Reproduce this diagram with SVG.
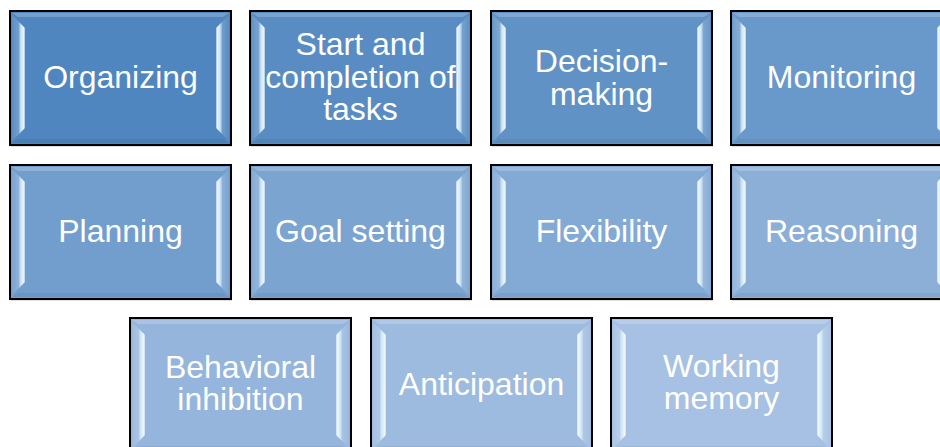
<svg xmlns="http://www.w3.org/2000/svg" xmlns:xlink="http://www.w3.org/1999/xlink" width="940" height="447" viewBox="0 0 940 447">
<style>
.box{stroke:#000;stroke-width:2}
.shadow{fill:#000;opacity:0.25}
.lbl{font-family:"Liberation Sans",Arial,sans-serif;font-size:32px;fill:#fff;text-anchor:middle}
</style>
<defs>
<linearGradient id="gl" x1="0" y1="0" x2="1" y2="0">
<stop offset="0" stop-color="#fff" stop-opacity="0.08"/>
<stop offset="0.5" stop-color="#fff" stop-opacity="0.2"/>
<stop offset="0.7" stop-color="#d6f2ff" stop-opacity="0.9"/>
<stop offset="0.92" stop-color="#fff" stop-opacity="0.9"/>
<stop offset="1" stop-color="#fff" stop-opacity="0.35"/>
</linearGradient>
<linearGradient id="gr" x1="1" y1="0" x2="0" y2="0">
<stop offset="0" stop-color="#fff" stop-opacity="0.05"/>
<stop offset="0.5" stop-color="#fff" stop-opacity="0.18"/>
<stop offset="0.7" stop-color="#d6f2ff" stop-opacity="0.9"/>
<stop offset="0.92" stop-color="#fff" stop-opacity="0.9"/>
<stop offset="1" stop-color="#fff" stop-opacity="0.35"/>
</linearGradient>
<g id="bevel">
<polygon points="2,2 219,2 213,6 8,6" fill="#fff" opacity="0.2"/>
<polygon points="2,132 219,132 213,128 8,128" fill="#000" opacity="0.05"/>
<polygon points="2,4 15,17 15,117 2,130" fill="url(#gl)"/>
<polygon points="219,4 206,17 206,117 219,130" fill="url(#gr)"/>
</g>
</defs>
<g id="connectors"></g>
<g id="organizing" transform="translate(10,11)">
<rect class="shadow" x="1" y="1.5" width="221" height="134"/>
<rect class="box" width="221" height="134" fill="#4F86BF"/>
<use xlink:href="#bevel"/>
<text class="lbl" x="110.5" y="77">Organizing</text>
</g>
<g id="start-completion" transform="translate(250,11)">
<rect class="shadow" x="1" y="1.5" width="221" height="134"/>
<rect class="box" width="221" height="134" fill="#588CC3"/>
<use xlink:href="#bevel"/>
<text class="lbl" x="110.5" y="44">Start and</text>
<text class="lbl" x="110.5" y="77">completion of</text>
<text class="lbl" x="110.5" y="109">tasks</text>
</g>
<g id="decision-making" transform="translate(491,11)">
<rect class="shadow" x="1" y="1.5" width="221" height="134"/>
<rect class="box" width="221" height="134" fill="#6092C6"/>
<use xlink:href="#bevel"/>
<text class="lbl" x="110.5" y="61">Decision-</text>
<text class="lbl" x="110.5" y="94">making</text>
</g>
<g id="monitoring" transform="translate(731,11)">
<rect class="shadow" x="1" y="1.5" width="221" height="134"/>
<rect class="box" width="221" height="134" fill="#6998CA"/>
<use xlink:href="#bevel"/>
<text class="lbl" x="110.5" y="77">Monitoring</text>
</g>
<g id="planning" transform="translate(10,165)">
<rect class="shadow" x="1" y="1.5" width="221" height="134"/>
<rect class="box" width="221" height="134" fill="#729ECD"/>
<use xlink:href="#bevel"/>
<text class="lbl" x="110.5" y="77">Planning</text>
</g>
<g id="goal-setting" transform="translate(250,165)">
<rect class="shadow" x="1" y="1.5" width="221" height="134"/>
<rect class="box" width="221" height="134" fill="#7BA4D1"/>
<use xlink:href="#bevel"/>
<text class="lbl" x="110.5" y="77">Goal setting</text>
</g>
<g id="flexibility" transform="translate(491,165)">
<rect class="shadow" x="1" y="1.5" width="221" height="134"/>
<rect class="box" width="221" height="134" fill="#83A9D5"/>
<use xlink:href="#bevel"/>
<text class="lbl" x="110.5" y="77">Flexibility</text>
</g>
<g id="reasoning" transform="translate(731,165)">
<rect class="shadow" x="1" y="1.5" width="221" height="134"/>
<rect class="box" width="221" height="134" fill="#8CAFD8"/>
<use xlink:href="#bevel"/>
<text class="lbl" x="110.5" y="77">Reasoning</text>
</g>
<g id="behavioral-inhibition" transform="translate(130,318)">
<rect class="shadow" x="1" y="1.5" width="221" height="134"/>
<rect class="box" width="221" height="134" fill="#95B5DC"/>
<use xlink:href="#bevel"/>
<text class="lbl" x="110.5" y="60">Behavioral</text>
<text class="lbl" x="110.5" y="92">inhibition</text>
</g>
<g id="anticipation" transform="translate(371,318)">
<rect class="shadow" x="1" y="1.5" width="221" height="134"/>
<rect class="box" width="221" height="134" fill="#9DBBDF"/>
<use xlink:href="#bevel"/>
<text class="lbl" x="110.5" y="77">Anticipation</text>
</g>
<g id="working-memory" transform="translate(611,318)">
<rect class="shadow" x="1" y="1.5" width="221" height="134"/>
<rect class="box" width="221" height="134" fill="#A6C1E3"/>
<use xlink:href="#bevel"/>
<text class="lbl" x="110.5" y="59">Working</text>
<text class="lbl" x="110.5" y="91">memory</text>
</g>
</svg>
